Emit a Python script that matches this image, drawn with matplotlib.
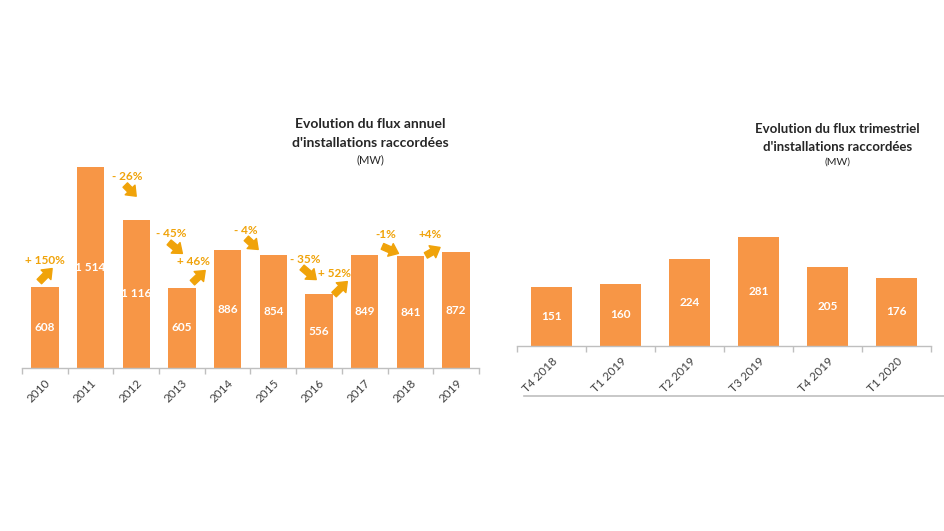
import matplotlib
matplotlib.use("Agg")
import matplotlib.pyplot as plt
from matplotlib.lines import Line2D

plt.rcParams["font.family"] = ["Lato", "DejaVu Sans"]

# ===== DONNEES =====
years = ["2010", "2011", "2012", "2013", "2014", "2015", "2016", "2017", "2018", "2019"]
annual_mw = [608, 1514, 1116, 605, 886, 854, 556, 849, 841, 872]
annual_labels = ["608", "1 514", "1 116", "605", "886", "854", "556", "849", "841", "872"]

quarters = ["T4 2018", "T1 2019", "T2 2019", "T3 2019", "T4 2019", "T1 2020"]
quarter_mw = [151, 160, 224, 281, 205, 176]

pct_labels = ["+ 150%", "- 26%", "- 45%", "+ 46%", "- 4%", "- 35%", "+ 52%", "-1%", "+4%"]

# placement des fleches (coord. donnees): texte (x, y), queue (x, y), tete (x, y)
pct_text_pos = [(0.01, 810), (1.81, 1446), (2.77, 1014), (3.25, 802), (4.39, 1037),
                (5.70, 818), (6.33, 712), (7.47, 1007), (8.43, 1007)]
arrow_tail = [(-0.12, 651), (1.76, 1378), (2.72, 946), (3.23, 643), (4.41, 976),
              (5.63, 757), (6.33, 553), (7.39, 916), (8.34, 848)]
arrow_head = [(0.16, 749), (2.0, 1294), (3.01, 863), (3.51, 734), (4.67, 893),
              (5.94, 666), (6.62, 651), (7.74, 863), (8.65, 908)]

BAR = "#F79646"
GOLD = "#F0A30A"
AXIS = "#BFBFBF"
TXT = "#404040"


def style_axis(ax, n):
    for s in ["top", "right", "left"]:
        ax.spines[s].set_visible(False)
    ax.spines["bottom"].set_color(AXIS)
    ax.spines["bottom"].set_linewidth(1.0)
    ax.set_yticks([])
    ax.set_xlim(-0.5, n - 0.5)
    ax.set_xticks(range(n))
    ax.tick_params(axis="x", which="major", length=0, pad=7)
    ax.set_xticks([i - 0.5 for i in range(n + 1)], minor=True)
    ax.tick_params(axis="x", which="minor", length=4, color=AXIS, width=1.0)


fig = plt.figure(figsize=(9.44, 5.31), dpi=100)

# ===== GRAPHIQUE ANNUEL =====
ax1 = fig.add_axes([0.0233, 0.307, 0.484, 0.40])
ax1.bar(range(len(years)), annual_mw, width=0.6, color=BAR)
ax1.set_ylim(0, 1600)
style_axis(ax1, len(years))
ax1.set_xticklabels(years, rotation=45, ha="right", rotation_mode="anchor",
                    fontsize=8.5, color=TXT)
for i, (v, lab) in enumerate(zip(annual_mw, annual_labels)):
    ax1.text(i, v / 2, lab, ha="center", va="center", color="white",
             fontsize=8.5, fontweight="bold", clip_on=False)

for lab, tp, t0, t1 in zip(pct_labels, pct_text_pos, arrow_tail, arrow_head):
    ax1.text(tp[0], tp[1], lab, ha="center", va="center", color=GOLD,
             fontsize=8.5, fontweight="bold")
    ax1.annotate("", xy=t1, xytext=t0,
                 arrowprops=dict(arrowstyle="simple,head_length=0.7,head_width=1.1,tail_width=0.5",
                                 color=GOLD, mutation_scale=9, shrinkA=0, shrinkB=0))

fig.text(0.392, 0.766, "Evolution du flux annuel", ha="center", va="center",
         fontsize=10, fontweight="bold", color="#262626")
fig.text(0.392, 0.731, "d'installations raccordées", ha="center", va="center",
         fontsize=10, fontweight="bold", color="#262626")
fig.text(0.392, 0.700, "(MW)", ha="center", va="center", fontsize=8, color="#262626")

# ===== GRAPHIQUE TRIMESTRIEL =====
ax2 = fig.add_axes([0.5477, 0.3484, 0.4386, 0.219])
ax2.bar(range(len(quarters)), quarter_mw, width=0.6, color=BAR)
ax2.set_ylim(0, 300)
style_axis(ax2, len(quarters))
ax2.set_xticklabels(quarters, rotation=45, ha="right", rotation_mode="anchor",
                    fontsize=8.5, color=TXT)
for i, v in enumerate(quarter_mw):
    ax2.text(i, v / 2, str(v), ha="center", va="center", color="white",
             fontsize=8.5, fontweight="bold")

fig.text(0.887, 0.757, "Evolution du flux trimestriel", ha="center", va="center",
         fontsize=9.5, fontweight="bold", color="#262626")
fig.text(0.887, 0.723, "d'installations raccordées", ha="center", va="center",
         fontsize=9.5, fontweight="bold", color="#262626")
fig.text(0.887, 0.695, "(MW)", ha="center", va="center", fontsize=7.5, color="#262626")

fig.add_artist(Line2D([0.555, 1.0], [0.254, 0.254], color=AXIS, lw=1.2,
                      transform=fig.transFigure))

fig.savefig("out.png", dpi=100, facecolor="white")
